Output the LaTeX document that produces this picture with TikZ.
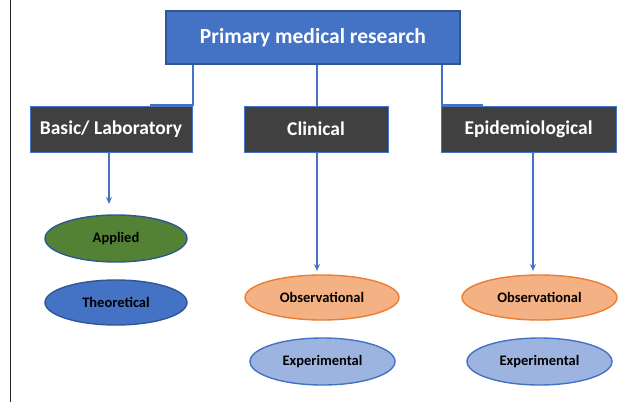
\documentclass[tikz,border=0pt]{standalone}
\usepackage{fontspec}
\setmainfont{Carlito}
\usetikzlibrary{shapes.geometric,arrows.meta}
\definecolor{topblue}{HTML}{4472C4}
\definecolor{darkblue}{HTML}{2F5597}
\definecolor{boxgray}{HTML}{404040}
\definecolor{appgreen}{HTML}{548235}
\definecolor{obsfill}{HTML}{F4B183}
\definecolor{obsline}{HTML}{ED7D31}
\definecolor{expfill}{HTML}{9DB3E0}
\tikzset{
  topbox/.style={draw=darkblue, line width=1.2pt, fill=topblue, text=white, font=\bfseries\fontsize{21.5}{24}\selectfont, minimum width=294pt, minimum height=53pt, inner sep=0pt},
  catbox/.style={draw=topblue, line width=0.6pt, fill=boxgray, text=white, font=\bfseries\fontsize{19.5}{22}\selectfont, minimum height=46pt, inner sep=0pt},
  oval/.style={ellipse, line width=1.4pt, font=\bfseries\fontsize{14.5}{17}\selectfont, text=black, inner sep=0pt},
  link/.style={draw=topblue, line width=1.3pt},
  arr/.style={draw=topblue, line width=1.3pt, -{Stealth[length=7pt,width=6pt]}}
}
\begin{document}
\begin{tikzpicture}[x=1pt,y=-1pt]
\useasboundingbox (0,0) rectangle (632,402);
\draw[line width=0.8pt, black!85] (10,0) -- (10,402);
\node[topbox] (top) at (313,37.5) {Primary medical research};
\node[catbox, minimum width=162pt] (basic) at (111,129) {Basic/ Laboratory};
\node[catbox, minimum width=144pt] (clin) at (316,129) {Clinical};
\node[catbox, minimum width=175pt] (epi) at (528.5,129) {Epidemiological};
\coordinate (bl) at (150,105);
\coordinate (er) at (483,105);
\draw[link] (top.south -| 193,0) |- (bl);
\draw[link] (top.south -| 317,0) -- (clin.north -| 317,0);
\draw[link] (top.south -| 442,0) |- (er);
\node[oval, draw=darkblue, fill=appgreen, minimum width=142pt, minimum height=47pt] (app) at (116,238.5) {Applied};
\node[oval, draw=darkblue, fill=topblue, minimum width=142pt, minimum height=45pt] (theo) at (116,302.5) {Theoretical};
\node[oval, draw=obsline, fill=obsfill, minimum width=154pt, minimum height=45pt] (obs1) at (322,297.5) {Observational};
\node[oval, draw=topblue, fill=expfill, minimum width=145pt, minimum height=47pt] (exp1) at (322.5,361.5) {Experimental};
\node[oval, draw=obsline, fill=obsfill, minimum width=155pt, minimum height=45pt] (obs2) at (539.5,297.5) {Observational};
\node[oval, draw=topblue, fill=expfill, minimum width=145pt, minimum height=47pt] (exp2) at (539.5,361.5) {Experimental};
\coordinate (a1) at (109,204);
\draw[arr] (basic.south -| a1) -- (a1);
\coordinate (a2) at (317,271);
\draw[arr] (clin.south -| a2) -- (a2);
\coordinate (a3) at (533,271);
\draw[arr] (epi.south -| a3) -- (a3);
\end{tikzpicture}
\end{document}
